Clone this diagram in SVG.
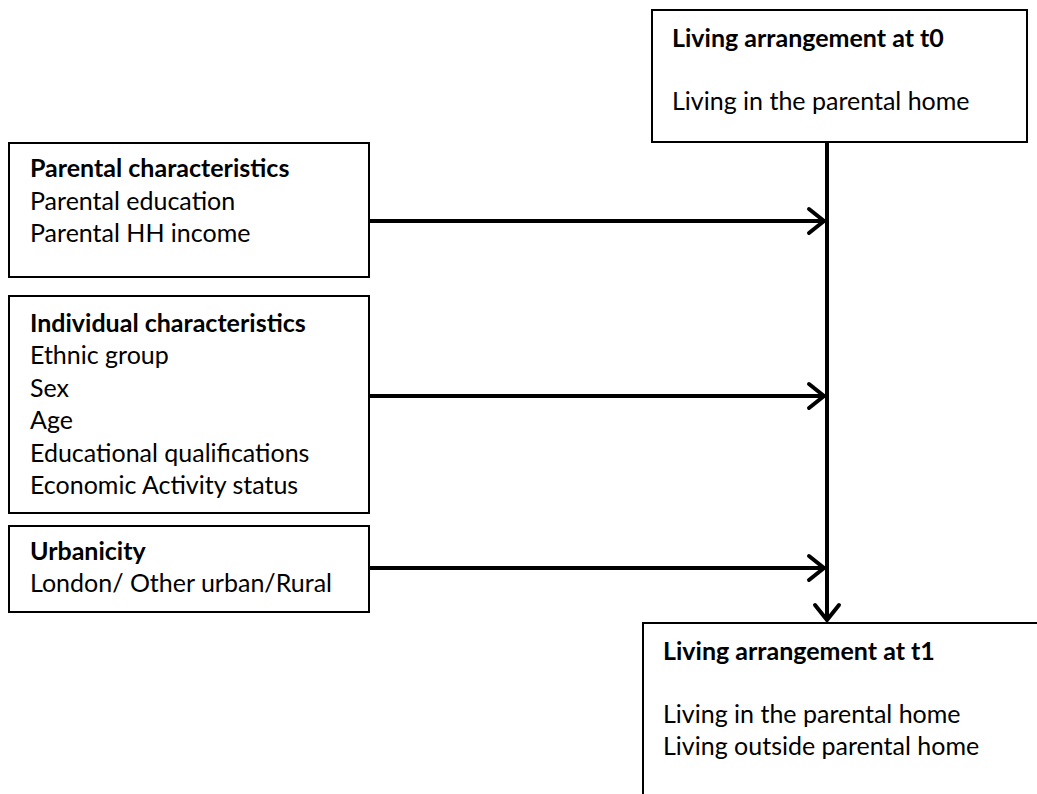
<svg xmlns="http://www.w3.org/2000/svg" width="1037" height="794" viewBox="0 0 1037 794">
<style>
.box{fill:#fff;stroke:#000;stroke-width:2}
.t{font-family:Lato,"Liberation Sans",sans-serif;font-size:25px;fill:#000}
.b{font-weight:bold}
.c{stroke:#000;stroke-width:4;fill:none}
</style>
<defs>
<marker id="ah" markerUnits="userSpaceOnUse" viewBox="-22 -16 26 32" markerWidth="26" markerHeight="32" refX="0" refY="0" orient="auto">
<path d="M-15,-12 L0,0 L-15,12" fill="none" stroke="#000" stroke-width="4" stroke-linecap="round" stroke-linejoin="miter"/>
</marker>
</defs>
<rect width="1037" height="794" fill="#fff"/>
<g id="connectors">
<line class="c" x1="827" y1="142" x2="827" y2="620" marker-end="url(#ah)"/>
<line class="c" x1="369" y1="221" x2="824" y2="221" marker-end="url(#ah)"/>
<line class="c" x1="369" y1="396" x2="824" y2="396" marker-end="url(#ah)"/>
<line class="c" x1="369" y1="568" x2="824" y2="568" marker-end="url(#ah)"/>
</g>
<g id="t0">
<rect class="box" x="652" y="10" width="375" height="132"/>
<text class="t b" x="672" y="47">Living arrangement at t0</text>
<text class="t" x="672" y="110">Living in the parental home</text>
</g>
<g id="parental">
<rect class="box" x="9" y="143" width="360" height="134"/>
<text class="t b" x="30" y="177">Parental characteristics</text>
<text class="t" x="30" y="210">Parental education</text>
<text class="t" x="30" y="242">Parental HH income</text>
</g>
<g id="individual">
<rect class="box" x="9" y="296" width="360" height="217"/>
<text class="t b" x="30" y="332">Individual characteristics</text>
<text class="t" x="30" y="364">Ethnic group</text>
<text class="t" x="30" y="397">Sex</text>
<text class="t" x="30" y="429">Age</text>
<text class="t" x="30" y="462">Educational qualifications</text>
<text class="t" x="30" y="494">Economic Activity status</text>
</g>
<g id="urbanicity">
<rect class="box" x="9" y="526" width="360" height="86"/>
<text class="t b" x="30" y="560">Urbanicity</text>
<text class="t" x="30" y="592">London/ Other urban/Rural</text>
</g>
<g id="t1">
<rect class="box" x="643" y="623" width="400" height="180"/>
<text class="t b" x="663" y="660">Living arrangement at t1</text>
<text class="t" x="663" y="723">Living in the parental home</text>
<text class="t" x="663" y="755">Living outside parental home</text>
</g>
</svg>
